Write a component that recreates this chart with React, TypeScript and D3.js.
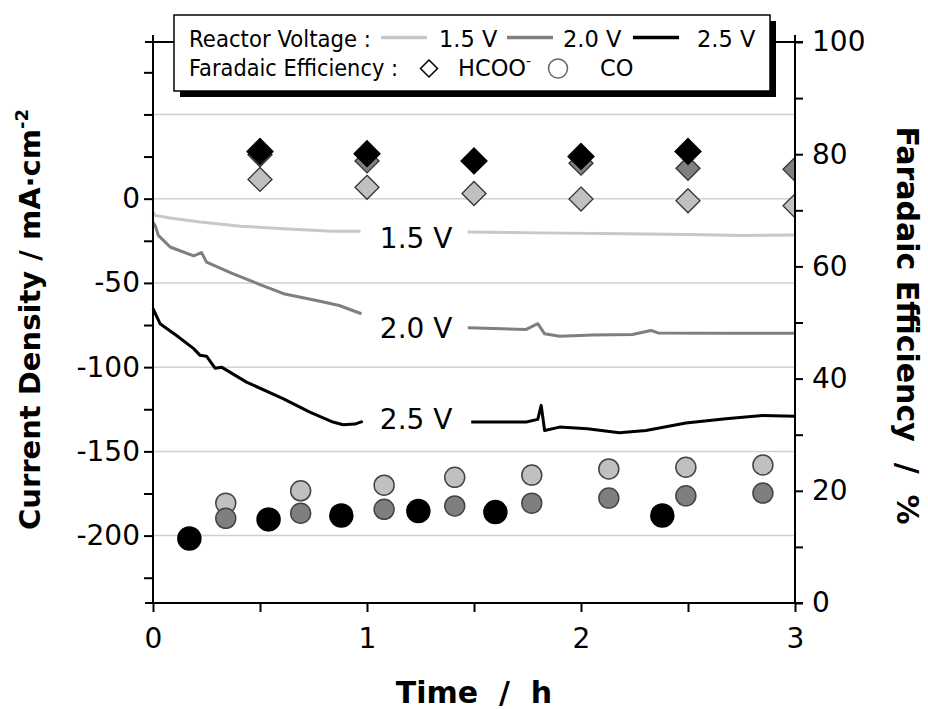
import React, { useRef, useEffect } from 'react';
import * as d3 from 'd3';

// current density traces, mA/cm2 (null = gap left for the in-plot label)
const time15 = [0, 0.01, 0.08, 0.22, 0.41, 0.61, 0.84, 0.97, 1.2, 1.47, 1.8, 2.21, 2.5, 2.76, 3.0];
const current15 = [-8, -9.9, -11.5, -13.9, -16.3, -17.8, -19.4, -19.4, null, -19.8, -20.3, -20.8, -21.3, -21.8, -21.6];

const time20 = [0, 0.01, 0.025, 0.08, 0.19, 0.227, 0.25, 0.375, 0.5, 0.61, 0.764, 0.87, 0.974, 1.2, 1.471, 1.744, 1.798, 1.83, 1.9, 2.055, 2.24, 2.327, 2.36, 2.677, 3.0];
const current20 = [-14, -15.9, -21.8, -28.7, -34, -32, -37.6, -44.6, -51, -56.4, -60.4, -63.4, -68.3, null, -76.6, -77.6, -74.2, -80.2, -81.6, -80.9, -80.6, -78.2, -79.7, -79.9, -79.9];

const time25 = [0, 0.033, 0.11, 0.19, 0.22, 0.25, 0.29, 0.32, 0.437, 0.61, 0.733, 0.841, 0.888, 0.943, 0.98, 1.2, 1.487, 1.744, 1.798, 1.814, 1.83, 1.9, 2.03, 2.179, 2.304, 2.49, 2.677, 2.848, 3.0];
const current25 = [-65.3, -74.2, -81.2, -89, -93, -93.5, -100.6, -100, -108.9, -118.8, -126.7, -132.6, -134.2, -133.8, -132.2, null, -132.6, -132.6, -131, -122.7, -137.6, -135.6, -136.6, -139, -137.6, -133.2, -130.7, -128.7, -129.1];

const voltageLabels = ['1.5 V', '2.0 V', '2.5 V'];
const labelTime = 1.06;
const labelCurrent = [-23, -76, -130];

// faradaic efficiency, %
const hcooTime = [0.5, 1, 1.5, 2, 2.5, 3];
const hcoo15 = [75.5, 74.1, 73.0, 72.0, 71.7, 70.8];
const hcoo20 = [79.9, 78.8, null, 78.4, 77.5, 77.3];
const hcoo25 = [80.5, 80.1, 78.8, 79.6, 80.5, null];

const coTime = [0.34, 0.69, 1.08, 1.41, 1.77, 2.13, 2.49, 2.85];
const co15 = [17.8, 20.0, 21.0, 22.4, 22.8, 23.9, 24.2, 24.6];
const co20 = [15.1, 16.0, 16.7, 17.3, 17.8, 18.7, 19.1, 19.6];
const coTime25 = [0.17, 0.54, 0.88, 1.24, 1.6, 2.38];
const co25 = [11.5, 14.9, 15.6, 16.4, 16.2, 15.6];

const gridValues = [50, 0, -50, -100, -150, -200];

const lineColors = ['#c8c8c8', '#7f7f7f', '#000000'];
const markColors = ['#c0c0c0', '#7f7f7f', '#000000'];

const App = () => {
    const svgRef = useRef<SVGSVGElement>(null);

    useEffect(() => {
        const svg = d3.select(svgRef.current);
        svg.selectAll('*').remove();

        const left = 153, right = 795, top = 42, bottom = 603;
        const font = "'DejaVu Sans', Verdana, sans-serif";

        const x = d3.scaleLinear().domain([0, 3]).range([left, right]);
        const yJ = d3.scaleLinear().domain([-240, 93]).range([bottom, top]);
        const yFE = d3.scaleLinear().domain([0, 100]).range([bottom, top]);

        svg.append('defs').append('clipPath').attr('id', 'plotClip')
            .append('rect').attr('x', left).attr('y', top)
            .attr('width', right - left).attr('height', bottom - top);

        // gridlines
        svg.append('g').selectAll('line').data(gridValues).join('line')
            .attr('x1', left).attr('x2', right)
            .attr('y1', d => yJ(d)).attr('y2', d => yJ(d))
            .attr('stroke', '#d0d0d0').attr('stroke-width', 1.5);

        // current traces
        const traces = [
            d3.zip(time15, current15),
            d3.zip(time20, current20),
            d3.zip(time25, current25),
        ];
        const line = d3.line<any>()
            .defined(d => d[1] != null)
            .x(d => x(d[0]))
            .y(d => yJ(d[1]));
        svg.append('g').selectAll('path').data(traces).join('path')
            .attr('d', d => line(d))
            .attr('fill', 'none')
            .attr('stroke', (d, i) => lineColors[i])
            .attr('stroke-width', 3)
            .attr('stroke-linejoin', 'round');

        svg.append('g').selectAll('text').data(voltageLabels).join('text')
            .attr('x', x(labelTime))
            .attr('y', (d, i) => yJ(labelCurrent[i]) + 11)
            .attr('font-family', font).attr('font-size', 28)
            .text(d => d);

        // markers
        const marks = svg.append('g').attr('clip-path', 'url(#plotClip)');
        const diamond = (s: number) => `M0,${-s}L${s},0L0,${s}L${-s},0Z`;
        [hcoo15, hcoo20, hcoo25].forEach((vals, i) => {
            const pts = d3.zip(hcooTime, vals).filter(d => d[1] != null);
            marks.append('g').selectAll('path').data(pts).join('path')
                .attr('transform', d => `translate(${x(d[0])},${yFE(d[1])})`)
                .attr('d', diamond(i === 2 ? 13 : 12))
                .attr('fill', markColors[i])
                .attr('stroke', i === 2 ? '#000' : '#333')
                .attr('stroke-width', 1.3);
        });
        [[coTime, co15], [coTime, co20], [coTime25, co25]].forEach(([ts, vals], i) => {
            marks.append('g').selectAll('circle').data(d3.zip(ts, vals)).join('circle')
                .attr('cx', d => x(d[0])).attr('cy', d => yFE(d[1]))
                .attr('r', i === 2 ? 11.5 : 10)
                .attr('fill', markColors[i])
                .attr('stroke', i === 2 ? '#000' : '#444')
                .attr('stroke-width', 1.5);
        });

        // axes
        const styleAxis = (g: any) => {
            g.attr('font-family', font).attr('font-size', 28);
            g.select('.domain').remove();
            g.selectAll('.tick line').attr('stroke', '#000').attr('stroke-width', 2);
            g.selectAll('.tick text').attr('fill', '#000');
        };

        svg.append('g').attr('transform', `translate(${left},0)`)
            .call(d3.axisLeft(yJ).tickValues(d3.range(-225, 80, 25))
                .tickSize(9).tickPadding(4)
                .tickFormat((d: any) => (d <= 0 && d % 50 === 0 ? String(d) : '')))
            .call(styleAxis);

        svg.append('g').attr('transform', `translate(${right},0)`)
            .call(d3.axisRight(yFE).tickValues(d3.range(0, 101, 10))
                .tickSize(8).tickPadding(9)
                .tickFormat((d: any) => (d % 20 === 0 ? String(d) : '')))
            .call(styleAxis);

        svg.append('g').attr('transform', `translate(0,${bottom})`)
            .call(d3.axisBottom(x).tickValues([0, 0.5, 1, 1.5, 2, 2.5, 3])
                .tickSize(9).tickPadding(16)
                .tickFormat((d: any) => (Number.isInteger(d) ? String(d) : '')))
            .call(styleAxis);

        // frame lines
        const frame = svg.append('g').attr('stroke', '#000').attr('stroke-width', 2);
        frame.append('line').attr('x1', left - 8).attr('x2', right + 8).attr('y1', top).attr('y2', top);
        frame.append('line').attr('x1', left - 8).attr('x2', right + 8).attr('y1', bottom).attr('y2', bottom);
        frame.append('line').attr('x1', left).attr('x2', left).attr('y1', top - 7).attr('y2', bottom);
        frame.append('line').attr('x1', right).attr('x2', right).attr('y1', top - 7).attr('y2', bottom);

        // axis titles
        const leftTitle = svg.append('text')
            .attr('transform', `translate(40,${(top + bottom) / 2 - 3}) rotate(-90)`)
            .attr('text-anchor', 'middle')
            .attr('font-family', font).attr('font-weight', 'bold').attr('font-size', 29);
        leftTitle.append('tspan').text('Current Density / mA\u00b7cm');
        leftTitle.append('tspan').attr('dy', -12).attr('font-size', 18).text('-2');

        svg.append('text')
            .attr('transform', `translate(897,${(top + bottom) / 2 + 3}) rotate(90)`)
            .attr('text-anchor', 'middle')
            .attr('font-family', font).attr('font-weight', 'bold').attr('font-size', 30)
            .attr('xml:space', 'preserve')
            .style('white-space', 'pre')
            .text('Faradaic Efficiency  /  %');

        svg.append('text')
            .attr('x', (left + right) / 2).attr('y', 703)
            .attr('text-anchor', 'middle')
            .attr('font-family', font).attr('font-weight', 'bold').attr('font-size', 30)
            .style('white-space', 'pre')
            .text('Time  /  h');

        // legend
        const lg = svg.append('g').attr('font-family', font).attr('font-size', 22.5);
        lg.append('rect').attr('x', 180).attr('y', 21).attr('width', 596).attr('height', 76).attr('fill', '#000');
        lg.append('rect').attr('x', 174).attr('y', 15).attr('width', 596).attr('height', 76)
            .attr('fill', '#fff').attr('stroke', '#000').attr('stroke-width', 1.5);
        lg.append('text').attr('x', 189).attr('y', 47)
            .attr('textLength', 182).attr('lengthAdjust', 'spacingAndGlyphs')
            .text('Reactor Voltage :');
        const legendLineX = [381, 507, 633];
        const legendTextX = [439, 563, 697];
        voltageLabels.forEach((v, i) => {
            lg.append('line').attr('x1', legendLineX[i]).attr('x2', legendLineX[i] + 46)
                .attr('y1', 37.5).attr('y2', 37.5)
                .attr('stroke', lineColors[i]).attr('stroke-width', 3.5);
            lg.append('text').attr('x', legendTextX[i]).attr('y', 47).text(v);
        });
        lg.append('text').attr('x', 189).attr('y', 76)
            .attr('textLength', 209).attr('lengthAdjust', 'spacingAndGlyphs')
            .text('Faradaic Efficiency :');
        lg.append('path').attr('transform', 'translate(429,68.5)').attr('d', diamond(8.5))
            .attr('fill', '#fff').attr('stroke', '#000').attr('stroke-width', 1.5);
        const hc = lg.append('text').attr('x', 458).attr('y', 76);
        hc.append('tspan').text('HCOO');
        hc.append('tspan').attr('dy', -10).attr('font-size', 14).text('-');
        lg.append('circle').attr('cx', 558).attr('cy', 68.5).attr('r', 9.5)
            .attr('fill', '#fff').attr('stroke', '#666').attr('stroke-width', 1.5);
        lg.append('text').attr('x', 600).attr('y', 76).text('CO');
    }, []);

    return (
        <svg ref={svgRef} width={928} height={709}
            style={{ position: 'absolute', left: 0, top: 0, background: '#fff' }}></svg>
    );
};

export default App;
